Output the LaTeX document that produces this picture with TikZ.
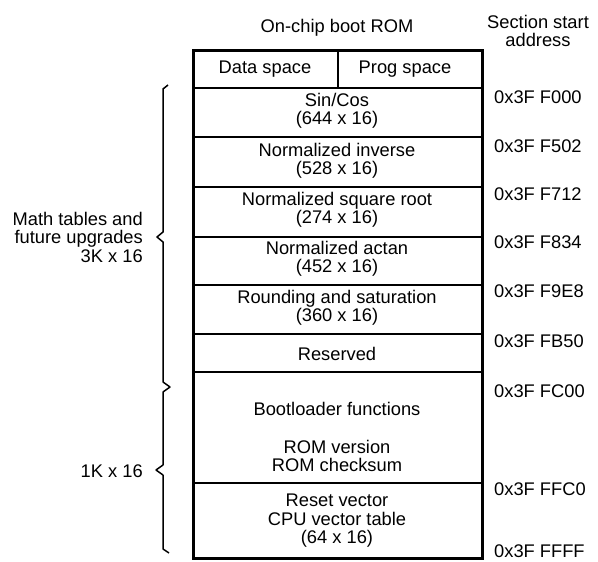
\documentclass[tikz,border=0pt]{standalone}
\usepackage{fontspec}
\setmainfont{Liberation Sans}
\begin{document}
\begin{tikzpicture}[x=1pt,y=-1pt,
  lbl/.style={inner sep=0pt, font=\fontsize{18.3}{18.5}\selectfont, align=center},
  addr/.style={inner sep=0pt, anchor=west, font=\fontsize{18.3}{18.5}\selectfont},
  outer/.style={line width=3pt},
  inner/.style={line width=1.5pt},
  brace/.style={line width=1.5pt, line join=round}]
\useasboundingbox (0,0) rectangle (598,562);
% row boundaries
\coordinate (TL) at (193,50);
\coordinate (BR) at (482,558);
\foreach \y in {88,137,187,237,285,334,372}{
  \draw[inner] (193,\y) -- (482,\y);
}
\draw[line width=2.4pt] (193,483) -- (482,483);
\draw[inner] (338,50) -- (338,88);
\draw[outer] (TL) rectangle (BR);
% titles
\node[lbl] (title) at (337,28) {On-chip boot ROM};
\node[lbl] (sec) at (538,31) {Section start\\address};
% cells
\node[lbl] (data) at (265,69) {Data space};
\node[lbl] (prog) at (405,69) {Prog space};
\node[lbl] (sincos) at (337,111) {Sin/Cos\\(644 x 16)};
\node[lbl] (ninv) at (337,161) {Normalized inverse\\(528 x 16)};
\node[lbl] (nsqrt) at (337,210) {Normalized square root\\(274 x 16)};
\node[lbl] (natan) at (337,259) {Normalized actan\\(452 x 16)};
\node[lbl] (round) at (337,308) {Rounding and saturation\\(360 x 16)};
\node[lbl] (res) at (337,354) {Reserved};
\node[lbl] (boot) at (337,409) {Bootloader functions};
\node[lbl] (romv) at (337,456) {ROM version\\ROM checksum};
\node[lbl] (reset) at (337,521) {Reset vector\\CPU vector table\\(64 x 16)};
% addresses
\node[addr] (a1) at (494,97) {0x3F F000};
\node[addr] (a2) at (494,146) {0x3F F502};
\node[addr] (a3) at (494,194) {0x3F F712};
\node[addr] (a4) at (494,242) {0x3F F834};
\node[addr] (a5) at (494,291) {0x3F F9E8};
\node[addr] (a6) at (494,341) {0x3F FB50};
\node[addr] (a7) at (494,391) {0x3F FC00};
\node[addr] (a8) at (494,489) {0x3F FFC0};
\node[addr] (a9) at (494,551) {0x3F FFFF};
% left labels
\node[lbl, align=right, anchor=east] (math) at (143,237) {Math tables and\\future upgrades\\3K x 16};
\node[lbl, anchor=east] (onek) at (143,471) {1K x 16};
% braces
\draw[brace] (168,85) -- (163,89) -- (163,232) -- (157,237) -- (163,242) -- (163,382) -- (170,387) -- (163,392) -- (163,465) -- (156,470) -- (163,475) -- (163,549) -- (169,553);
\end{tikzpicture}
\end{document}
